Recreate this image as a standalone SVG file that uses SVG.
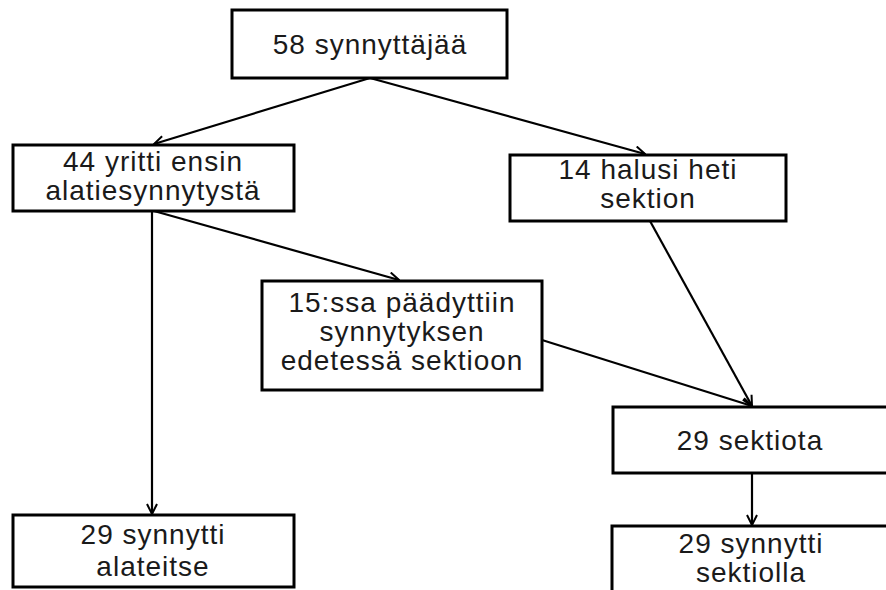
<svg xmlns="http://www.w3.org/2000/svg" width="886" height="590" viewBox="0 0 886 590">
<style>
.box{fill:#fff;stroke:#000;stroke-width:3}
.t{font-family:"Liberation Sans",Arial,sans-serif;font-size:28px;fill:#1a1a1a;text-anchor:middle;letter-spacing:1px}
.c{stroke:#000;stroke-width:2.2;fill:none;marker-end:url(#a)}
</style>
<defs>
<marker id="a" viewBox="0 0 12 12" refX="11" refY="6" markerWidth="12" markerHeight="12" markerUnits="userSpaceOnUse" orient="auto">
<path d="M1,1 L11,6 L1,11" fill="none" stroke="#000" stroke-width="2"/>
</marker>
</defs>
<rect width="886" height="590" fill="#fff"/>
<g id="connectors">
<line class="c" x1="370" y1="78" x2="154" y2="144"/>
<line class="c" x1="370" y1="78" x2="645" y2="154"/>
<line class="c" x1="152" y1="211" x2="152" y2="514"/>
<line class="c" x1="154" y1="211" x2="399" y2="280"/>
<line class="c" x1="650" y1="221" x2="752" y2="406"/>
<line class="c" x1="542" y1="340" x2="752" y2="406"/>
<line class="c" x1="752" y1="473" x2="752" y2="525"/>
</g>
<g id="n1"><rect class="box" x="232" y="10" width="275" height="68"/><text class="t" x="370" y="54">58 synnyttäjää</text></g>
<g id="n2"><rect class="box" x="13" y="145" width="281" height="66"/><text class="t" x="153" y="171">44 yritti ensin</text><text class="t" x="153" y="200">alatiesynnytystä</text></g>
<g id="n3"><rect class="box" x="510" y="155" width="276" height="66"/><text class="t" x="648" y="179">14 halusi heti</text><text class="t" x="648" y="208">sektion</text></g>
<g id="n4"><rect class="box" x="262" y="281" width="280" height="109"/><text class="t" x="402" y="312">15:ssa päädyttiin</text><text class="t" x="402" y="341">synnytyksen</text><text class="t" x="402" y="370">edetessä sektioon</text></g>
<g id="n5"><rect class="box" x="613" y="407" width="277" height="66"/><text class="t" x="750" y="450">29 sektiota</text></g>
<g id="n6"><rect class="box" x="13" y="515" width="281" height="72"/><text class="t" x="153" y="544">29 synnytti</text><text class="t" x="153" y="576">alateitse</text></g>
<g id="n7"><rect class="box" x="612" y="526" width="280" height="80"/><text class="t" x="751" y="553">29 synnytti</text><text class="t" x="751" y="582">sektiolla</text></g>
</svg>
